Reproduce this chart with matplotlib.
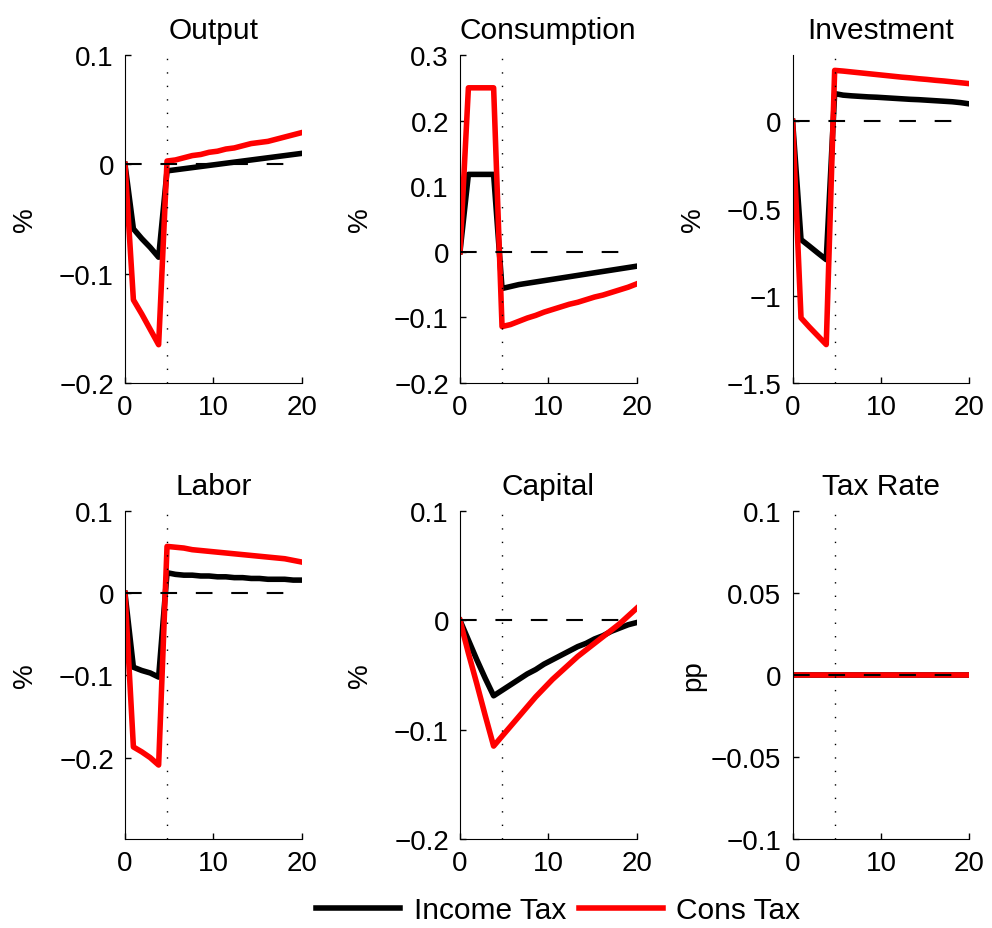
import numpy as np
import matplotlib
matplotlib.use('Agg')
import matplotlib.pyplot as plt
from matplotlib.ticker import FuncFormatter

plt.rcParams['font.family'] = ['Liberation Sans', 'DejaVu Sans']
plt.rcParams['font.size'] = 20

# horizonte: 22 pontos entre 0 e 20
horizonte = np.linspace(0, 20, 22)
choque = horizonte[5]

# Income Tax (preto) e Cons Tax (vermelho)
output_inc = [0, -0.059, -0.068, -0.076, -0.085, -0.006, -0.005, -0.004, -0.003, -0.002, -0.001,
              0.0, 0.001, 0.002, 0.003, 0.004, 0.005, 0.006, 0.007, 0.008, 0.009, 0.010]
output_cons = [0, -0.124, -0.137, -0.151, -0.165, 0.003, 0.004, 0.006, 0.008, 0.009, 0.011,
               0.012, 0.014, 0.015, 0.017, 0.019, 0.020, 0.021, 0.023, 0.025, 0.027, 0.029]

consumo_inc = [0, 0.118, 0.118, 0.118, 0.118, -0.056, -0.053, -0.050, -0.048, -0.046, -0.044,
               -0.042, -0.040, -0.038, -0.036, -0.034, -0.032, -0.030, -0.028, -0.026, -0.024, -0.022]
consumo_cons = [0, 0.25, 0.25, 0.25, 0.25, -0.114, -0.111, -0.106, -0.101, -0.097, -0.092,
                -0.088, -0.084, -0.080, -0.077, -0.073, -0.069, -0.066, -0.062, -0.058, -0.054, -0.049]

invest_inc = [0, -0.678, -0.716, -0.755, -0.793, 0.159, 0.150, 0.146, 0.143, 0.140, 0.138,
              0.135, 0.132, 0.129, 0.126, 0.124, 0.121, 0.118, 0.115, 0.112, 0.107, 0.100]
invest_cons = [0, -1.127, -1.18, -1.23, -1.28, 0.292, 0.288, 0.283, 0.278, 0.273, 0.268,
               0.263, 0.258, 0.253, 0.249, 0.244, 0.240, 0.235, 0.231, 0.226, 0.221, 0.216]

trabalho_inc = [0, -0.090, -0.094, -0.097, -0.102, 0.025, 0.023, 0.022, 0.022, 0.021, 0.021,
                0.020, 0.020, 0.019, 0.019, 0.018, 0.018, 0.017, 0.017, 0.017, 0.016, 0.016]
trabalho_cons = [0, -0.187, -0.193, -0.200, -0.209, 0.057, 0.056, 0.055, 0.053, 0.052, 0.051,
                 0.050, 0.049, 0.048, 0.047, 0.046, 0.045, 0.044, 0.043, 0.042, 0.040, 0.038]

capital_inc = [0, -0.018, -0.036, -0.053, -0.069, -0.064, -0.059, -0.054, -0.049, -0.045, -0.040,
               -0.036, -0.032, -0.028, -0.024, -0.021, -0.017, -0.014, -0.010, -0.007, -0.004, -0.002]
capital_cons = [0, -0.030, -0.058, -0.087, -0.115, -0.106, -0.097, -0.088, -0.079, -0.070, -0.062,
                -0.054, -0.047, -0.040, -0.033, -0.027, -0.021, -0.015, -0.009, -0.003, 0.004, 0.011]

taxa_inc = [0.0] * 22
taxa_cons = [0.0] * 22

paineis = [
    ('Output', output_inc, output_cons, (-0.2, 0.1), [-0.2, -0.1, 0, 0.1], '%'),
    ('Consumption', consumo_inc, consumo_cons, (-0.2, 0.3), [-0.2, -0.1, 0, 0.1, 0.2, 0.3], '%'),
    ('Investment', invest_inc, invest_cons, (-1.5, 0.38), [-1.5, -1, -0.5, 0], '%'),
    ('Labor', trabalho_inc, trabalho_cons, (-0.299, 0.1), [-0.2, -0.1, 0, 0.1], '%'),
    ('Capital', capital_inc, capital_cons, (-0.2, 0.1), [-0.2, -0.1, 0, 0.1], '%'),
    ('Tax Rate', taxa_inc, taxa_cons, (-0.1, 0.1), [-0.1, -0.05, 0, 0.05, 0.1], 'pp'),
]

fig = plt.figure(figsize=(9.92, 9.29), dpi=100)

lefts = [0.126, 0.4637, 0.799]
bottoms = [0.5867, 0.0958]
largura, altura = 0.178, 0.353

fmt = FuncFormatter(lambda v, p: f"{v:g}".replace('-', '\u2212'))

for i, (titulo, inc, cons, lim, ticks, unidade) in enumerate(paineis):
    ax = fig.add_axes([lefts[i % 3], bottoms[i // 3], largura, altura])
    l1, = ax.plot(horizonte, inc, color='black', lw=4, label='Income Tax')
    l2, = ax.plot(horizonte, cons, color='red', lw=4, label='Cons Tax')
    ax.plot(horizonte[:20], np.zeros(20), color='black', lw=1.5, dashes=(8, 9))
    ax.plot([choque, choque], lim, color='black', lw=1, dashes=(1, 8.7))
    ax.set_xlim(0, 20)
    ax.set_ylim(*lim)
    ax.set_xticks([0, 10, 20])
    ax.set_yticks(ticks)
    ax.yaxis.set_major_formatter(fmt)
    ax.spines['top'].set_visible(False)
    ax.spines['right'].set_visible(False)
    ax.tick_params(direction='in', length=4, width=1, pad=8)
    ax.set_title(titulo, pad=12, fontsize=21.5)
    ax.set_ylabel(unidade)
    ax.yaxis.set_label_coords(-0.49, 0.5)

fig.legend(handles=[l1, l2], loc='center', bbox_to_anchor=(0.563, 0.0194), ncol=2,
           frameon=False, handlelength=2.8, handletextpad=0.45, columnspacing=0.45,
           fontsize=21.5)

fig.savefig('out.png', dpi=100)
